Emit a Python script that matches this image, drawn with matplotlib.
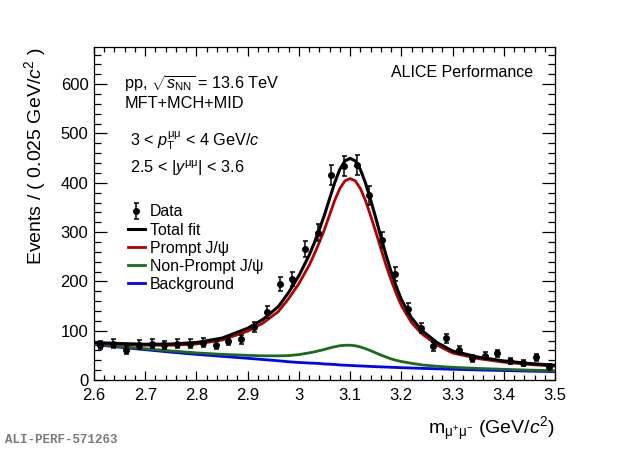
import numpy as np
import matplotlib
matplotlib.use("Agg")
import matplotlib.pyplot as plt
from matplotlib.ticker import MultipleLocator

plt.rcParams['font.family'] = ['Liberation Sans', 'DejaVu Sans']
plt.rcParams['mathtext.fontset'] = 'custom'
plt.rcParams['mathtext.rm'] = 'Liberation Sans'
plt.rcParams['mathtext.it'] = 'Liberation Sans:italic'
plt.rcParams['mathtext.bf'] = 'Liberation Sans:bold'

# ---- data (bin centres, 0.025 GeV/c^2 bins) ----
mass_bins = [2.6125, 2.6375, 2.6625, 2.6875, 2.7125, 2.7375, 2.7625, 2.7875, 2.8125,
             2.8375, 2.8625, 2.8875, 2.9125, 2.9375, 2.9625, 2.9875, 3.0125, 3.0375,
             3.0625, 3.0875, 3.1125, 3.1375, 3.1625, 3.1875, 3.2125, 3.2375, 3.2625,
             3.2875, 3.3125, 3.3375, 3.3625, 3.3875, 3.4125, 3.4375, 3.4625, 3.4875]
counts = [71, 74, 61, 72, 74, 71, 74, 74, 76,
          71, 79, 83, 107, 138, 194, 205, 265, 299,
          416, 434, 436, 375, 284, 215, 145, 105, 68,
          85, 61, 44, 49, 54, 39, 34, 46, 27]

# ---- fit components ----
m_curve = [2.60, 2.65, 2.70, 2.75, 2.80, 2.85, 2.90, 2.93, 2.96, 2.98,
           3.00, 3.02, 3.03, 3.04, 3.05, 3.06, 3.07, 3.08, 3.09, 3.10,
           3.11, 3.12, 3.13, 3.14, 3.15, 3.16, 3.17, 3.18, 3.19, 3.20,
           3.22, 3.24, 3.27, 3.30, 3.35, 3.40, 3.45, 3.50]
prompt = [3, 6, 9, 14, 21, 33, 55, 74, 100, 128,
          160, 198, 221, 246, 273, 303, 333, 358, 374, 379,
          375, 360, 336, 306, 274, 240, 207, 177, 150, 126,
          92, 70, 48, 33, 23, 17, 13.5, 11]
nonprompt = [1, 1.5, 2, 2.5, 3, 4, 6, 7.5, 10, 12.5,
             16, 20.5, 23, 26, 29.5, 33, 36, 39, 40.5, 41,
             40.5, 38.5, 35.5, 32, 28, 24, 20.5, 17, 14.5, 12.5,
             9.5, 7, 5, 4, 3, 2.5, 2, 2]
background = [72, 66.5, 61.5, 56.5, 52, 48, 44, 41.5, 39, 37,
              35.5, 34.5, 34, 33.5, 32.5, 32, 31.5, 30.5, 30, 29.5,
              29, 28.5, 28, 27.5, 27, 26.6, 26.2, 25.8, 25.4, 25,
              24.3, 23.6, 22.7, 21.8, 20.4, 19.2, 18, 17]

xticks = [2.6, 2.7, 2.8, 2.9, 3.0, 3.1, 3.2, 3.3, 3.4, 3.5]
xticklabels = ['2.6', '2.7', '2.8', '2.9', '3', '3.1', '3.2', '3.3', '3.4', '3.5']
yticks = [0, 100, 200, 300, 400, 500, 600]

mc = np.array(m_curve)
P = np.array(prompt)
NP = np.array(nonprompt)
B = np.array(background)
total = P + NP + B
red = P + B
green = NP + B

fig = plt.figure(figsize=(6.2, 4.49), dpi=100)
ax = fig.add_axes([94/620, 1-380/449, (555-94)/620, (380-46.7)/449])

c_black = '#000000'
c_red = '#b40000'
c_green = '#1a6b1a'
c_blue = '#0000ff'

hb, = ax.plot(mc, B, color=c_blue, lw=2.0, label='Background', zorder=2)
hg, = ax.plot(mc, green, color=c_green, lw=2.0, label='Non-Prompt J/ψ', zorder=3)
hr, = ax.plot(mc, red, color=c_red, lw=2.0, label='Prompt J/ψ', zorder=4)
ht, = ax.plot(mc, total, color=c_black, lw=2.2, label='Total fit', zorder=5)
yerr = np.sqrt(np.array(counts, dtype=float))
hd = ax.errorbar(mass_bins, counts, yerr=yerr, fmt='o', color='black', ms=4.0,
                 elinewidth=1.1, capsize=1.8, capthick=1.1, label='Data', zorder=6)

ax.set_xlim(2.6, 3.5)
ax.set_ylim(0, 676)
ax.set_xticks(xticks)
ax.set_xticklabels(xticklabels)
ax.set_yticks(yticks)
ax.xaxis.set_minor_locator(MultipleLocator(0.02))
ax.yaxis.set_minor_locator(MultipleLocator(20))
ax.tick_params(axis='both', which='both', direction='in', top=True, right=True,
               width=0.9, labelsize=12)
ax.tick_params(axis='x', which='major', length=6.5, pad=5.5)
ax.tick_params(axis='x', which='minor', length=3.3)
ax.tick_params(axis='y', which='major', length=9.5, pad=4)
ax.tick_params(axis='y', which='minor', length=4.8)
for s in ax.spines.values():
    s.set_linewidth(0.9)

ax.set_ylabel(r'Events / ( 0.025 GeV/$c^{2}$ )', fontsize=14)
ax.yaxis.set_label_coords(-0.10, 1.0)
ax.yaxis.label.set_ha('right')
ax.set_xlabel(r'm$_{\mathrm{\mu^{+}\mu^{-}}}$ (GeV/$c^{2}$)', fontsize=14)
ax.xaxis.set_label_coords(1.0, -0.105)
ax.xaxis.label.set_ha('right')

fs = 11.7
ax.text(0.066, 0.890, r'pp, $\sqrt{s_{\mathrm{NN}}}$ = 13.6 TeV', transform=ax.transAxes,
        fontsize=fs, va='center', ha='left')
ax.text(0.066, 0.830, 'MFT+MCH+MID', transform=ax.transAxes,
        fontsize=fs, va='center', ha='left')
ax.text(0.078, 0.718, r'3 < $p_{\mathrm{T}}^{\mathrm{\mu\mu}}$ < 4 GeV/$c$', transform=ax.transAxes,
        fontsize=fs, va='center', ha='left')
ax.text(0.078, 0.635, r'2.5 < |$y^{\mathrm{\mu\mu}}$| < 3.6', transform=ax.transAxes,
        fontsize=fs, va='center', ha='left')
ax.text(0.952, 0.922, 'ALICE Performance', transform=ax.transAxes,
        fontsize=11.5, va='center', ha='right')

leg = ax.legend(handles=[hd, ht, hr, hg, hb],
                labels=['Data', 'Total fit', 'Prompt J/ψ', 'Non-Prompt J/ψ', 'Background'],
                loc='upper left', bbox_to_anchor=(0.073, 0.527), frameon=False,
                fontsize=11.4, handlelength=1.1, handletextpad=0.3,
                labelspacing=0.2, borderpad=0.0, borderaxespad=0.0)

fig.text(5/620, 1-440/449, 'ALI-PERF-571263', fontsize=9.0, color='#7a7a7a',
         family='Liberation Mono', weight='bold', va='center', ha='left')

fig.savefig('out.png', dpi=100)
